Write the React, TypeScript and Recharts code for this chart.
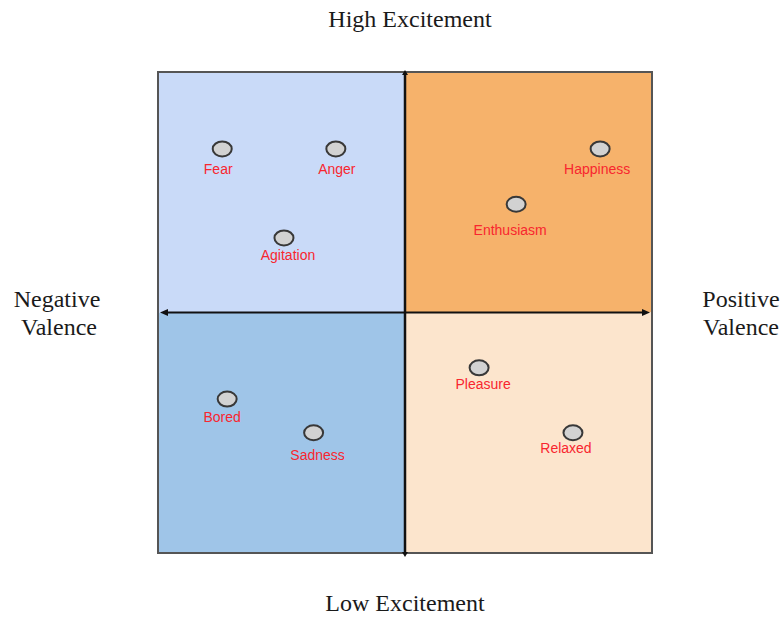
import { ReferenceArea, ReferenceLine, Scatter, ScatterChart, XAxis, YAxis } from "recharts";

// emotion positions on the valence (x) / excitement (y) plane, -10..10
const emotions = ["Fear", "Anger", "Agitation", "Happiness", "Enthusiasm", "Bored", "Sadness", "Pleasure", "Relaxed"];
const valence = [-7.4, -2.8, -4.9, 7.9, 4.5, -7.2, -3.7, 3.0, 6.8];
const excitement = [6.8, 6.8, 3.1, 6.8, 4.5, -3.6, -5.0, -2.3, -5.0];

// hand-placed label nudges (px), the source drawing isn't perfectly regular
const labelNudge: Record<string, [number, number]> = {
  Fear: [-4, 20],
  Anger: [1, 20],
  Agitation: [4, 17],
  Happiness: [-3, 20],
  Enthusiasm: [-6, 26],
  Bored: [-5, 18],
  Sadness: [4, 22],
  Pleasure: [4, 16],
  Relaxed: [-7, 15],
};

const data = emotions.map((name, i) => ({ name, x: valence[i], y: excitement[i] }));

const serif = "'Liberation Serif', 'Times New Roman', serif";
const sans = "'Liberation Sans', Arial, sans-serif";

function EmotionDot(props: any) {
  const { cx, cy, payload } = props;
  const [dx, dy] = labelNudge[payload.name] ?? [0, 20];
  return (
    <g>
      <ellipse cx={cx} cy={cy} rx={9.5} ry={7.5} fill="#d2d2d2" stroke="#383838" strokeWidth={2} />
      <text x={cx + dx} y={cy + dy + 5} textAnchor="middle" fontSize={14} fontFamily={sans} fill="#f8262f">
        {payload.name}
      </text>
    </g>
  );
}

function VerticalArrow(props: any) {
  const { x1, y1, y2 } = props;
  const top = Math.min(y1, y2) - 2;
  const bottom = Math.max(y1, y2) + 4;
  return (
    <g>
      <line x1={x1} y1={top + 3} x2={x1} y2={bottom - 3} stroke="#111" strokeWidth={2.5} />
      <polygon points={`${x1},${top} ${x1 - 3},${top + 5} ${x1 + 3},${top + 5}`} fill="#111" />
      <polygon points={`${x1},${bottom} ${x1 - 3},${bottom - 5} ${x1 + 3},${bottom - 5}`} fill="#111" />
    </g>
  );
}

function HorizontalArrow(props: any) {
  const { x1, x2, y1 } = props;
  const left = Math.min(x1, x2) + 2;
  const right = Math.max(x1, x2) - 2;
  return (
    <g>
      <line x1={left + 4} y1={y1} x2={right - 4} y2={y1} stroke="#111" strokeWidth={2} />
      <polygon points={`${left},${y1} ${left + 8},${y1 - 3.5} ${left + 8},${y1 + 3.5}`} fill="#111" />
      <polygon points={`${right},${y1} ${right - 8},${y1 - 3.5} ${right - 8},${y1 + 3.5}`} fill="#111" />
    </g>
  );
}

export default function App() {
  return (
    <div style={{ position: "absolute", left: 0, top: 0, width: 783, height: 618, background: "#fff" }}>
      <ScatterChart width={783} height={618} margin={{ top: 72, right: 131, bottom: 65, left: 158 }}>
        <XAxis type="number" dataKey="x" domain={[-10, 10]} hide />
        <YAxis type="number" dataKey="y" domain={[-10, 10]} hide />
        <ReferenceArea x1={-10} x2={0} y1={0} y2={10} fill="#c9daf8" fillOpacity={1} stroke="none" />
        <ReferenceArea x1={0} x2={10} y1={0} y2={10} fill="#f6b26b" fillOpacity={1} stroke="none" />
        <ReferenceArea x1={-10} x2={0} y1={-10} y2={0} fill="#9fc5e8" fillOpacity={1} stroke="none" />
        <ReferenceArea x1={0} x2={10} y1={-10} y2={0} fill="#fce5cd" fillOpacity={1} stroke="none" />
        <ReferenceArea x1={-10} x2={10} y1={-10} y2={10} fill="none" fillOpacity={0} stroke="#555" strokeWidth={2} />
        <ReferenceLine y={0} shape={HorizontalArrow} />
        <ReferenceLine x={0} shape={VerticalArrow} />
        <Scatter data={data} shape={EmotionDot} isAnimationActive={false} />
        <text x={410} y={27} textAnchor="middle" fontSize={24} fontFamily={serif} fill="#1a1a1a">High Excitement</text>
        <text x={405} y={611} textAnchor="middle" fontSize={24} fontFamily={serif} fill="#1a1a1a">Low Excitement</text>
        <text x={57} y={307} textAnchor="middle" fontSize={24} fontFamily={serif} fill="#1a1a1a">Negative</text>
        <text x={59} y={335} textAnchor="middle" fontSize={24} fontFamily={serif} fill="#1a1a1a">Valence</text>
        <text x={741} y={307} textAnchor="middle" fontSize={24} fontFamily={serif} fill="#1a1a1a">Positive</text>
        <text x={741} y={335} textAnchor="middle" fontSize={24} fontFamily={serif} fill="#1a1a1a">Valence</text>
      </ScatterChart>
    </div>
  );
}
